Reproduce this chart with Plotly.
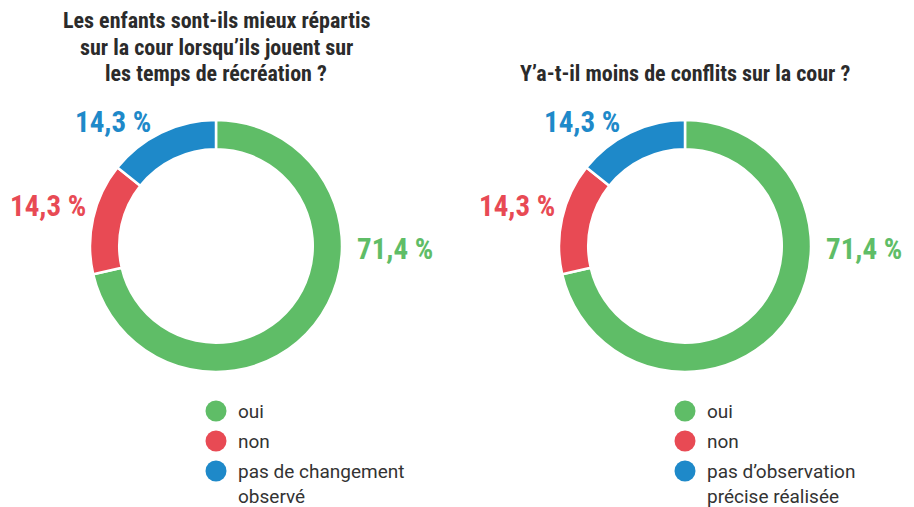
import plotly.graph_objects as go

# ---- data ----
categories_left = ["oui", "non", "pas de changement<br>observé"]
categories_right = ["oui", "non", "pas d’observation<br>précise réalisée"]
values_left = [71.4, 14.3, 14.3]
values_right = [71.4, 14.3, 14.3]
value_labels_left = ["71,4 %", "14,3 %", "14,3 %"]
value_labels_right = ["71,4 %", "14,3 %", "14,3 %"]
titles = ["Les enfants sont-ils mieux répartis<br>sur la cour lorsqu’ils jouent sur<br>les temps de récréation ?",
          "Y’a-t-il moins de conflits sur la cour ?"]
colors = ["#5fbd67", "#e84a54", "#1e89c9"]

W, H = 914, 507
R = 126
centers = [(216, 246), (685, 246)]
BOLD = "Liberation Sans Narrow, Roboto Condensed, Roboto, sans-serif"
REG = "Liberation Sans Narrow, Roboto, sans-serif"

fig = go.Figure()
annotations = []
shapes = []

def px(x):
    return x / W

def py(y):
    return 1 - y / H

for i, (cats, vals, vlabs) in enumerate([(categories_left, values_left, value_labels_left),
                                          (categories_right, values_right, value_labels_right)]):
    cx, cy = centers[i]
    fig.add_trace(go.Pie(
        labels=[c.replace("<br>", " ") for c in cats], values=vals, hole=0.768,
        sort=False, direction="clockwise", rotation=0,
        marker=dict(colors=colors, line=dict(color="white", width=2.5)),
        textinfo="none", showlegend=False, hoverinfo="label+percent",
        domain=dict(x=[px(cx - R), px(cx + R)], y=[py(cy + R), py(cy - R)]),
    ))
    # value labels (relative offsets from pie centre)
    offs = [(R + 13, 3, "left"), (-R - 2, -40, "right"), (-63, -124, "right")]
    for (dx, dy, anc), lab, col in zip(offs, vlabs, colors):
        annotations.append(dict(x=px(cx + dx), y=py(cy + dy), xref="paper", yref="paper",
                                text=f"<b>{lab}</b>", showarrow=False, xanchor=anc, yanchor="middle",
                                font=dict(family=BOLD, size=29, color=col)))
    # title, one annotation per line for tight line spacing
    lines = titles[i].split("<br>")
    n = len(lines)
    for k, line in enumerate(lines):
        ly = 73 - 26 * (n - 1 - k)
        annotations.append(dict(x=px(cx), y=py(ly), xref="paper", yref="paper",
                                text=f"<b>{line}</b>", showarrow=False, xanchor="center",
                                yanchor="middle",
                                font=dict(family=BOLD, size=22, color="#2b2b2b")))
    # custom legend
    ys = [411, 441, 471]
    for j, (cat, col) in enumerate(zip(cats, colors)):
        mx = cx
        my = ys[j]
        shapes.append(dict(type="circle", xref="paper", yref="paper",
                           x0=px(mx - 10.5), x1=px(mx + 10.5), y0=py(my + 10.5), y1=py(my - 10.5),
                           fillcolor=col, line=dict(width=0)))
        annotations.append(dict(x=px(mx + 20), y=py(my - 13), xref="paper", yref="paper",
                                text=cat, showarrow=False, xanchor="left", yanchor="top",
                                align="left",
                                font=dict(family=REG, size=19, color="#333333")))

fig.update_layout(width=W, height=H, margin=dict(l=0, r=0, t=0, b=0),
                  paper_bgcolor="white", plot_bgcolor="white",
                  annotations=annotations, shapes=shapes, showlegend=False)
fig.write_html("out.html", config={"displayModeBar": False},
               post_script="document.body.style.margin='0';document.body.style.overflow='hidden';")
